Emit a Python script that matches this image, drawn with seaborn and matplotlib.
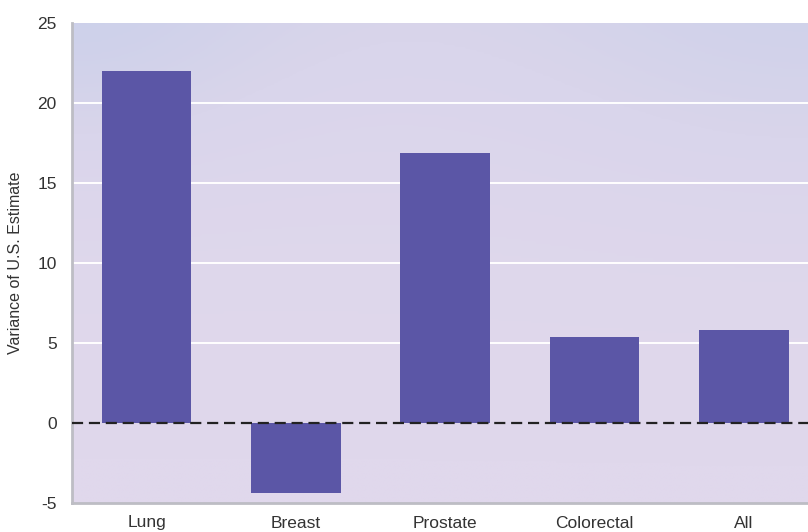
import numpy as np
import pandas as pd
import matplotlib
matplotlib.use('Agg')
import matplotlib.pyplot as plt
import seaborn as sns
from matplotlib.colors import LinearSegmentedColormap

# 数据
cancer_types = ['Lung', 'Breast', 'Prostate', 'Colorectal', 'All']
variance = [22.0, -4.4, 16.9, 5.4, 5.8]
y_ticks = [-5, 0, 5, 10, 15, 20, 25]

sns.set_style('white')
plt.rcParams['font.family'] = ['Liberation Sans Narrow', 'Liberation Sans', 'DejaVu Sans']

df = pd.DataFrame({'type': cancer_types, 'variance': variance})

fig = plt.figure(figsize=(8.08, 5.32), dpi=100)
ax = fig.add_axes([72 / 808, 29 / 532, 736 / 808, 480 / 532])

# 渐变背景：左上偏蓝，中间偏粉紫
xg, yg = np.meshgrid(np.linspace(0, 1, 200), np.linspace(0, 1, 200))
t = np.clip(0.45 * (1 - yg) ** 2 + 0.45 * np.exp(-((xg) ** 2 + (yg) ** 2) / 0.08)
            + 0.35 * np.exp(-((xg - 1) ** 2 + (yg) ** 2) / 0.15), 0, 1)
cmap = LinearSegmentedColormap.from_list('bg', ['#e0d8ec', '#d9d5eb', '#cbd0ea'])
ax.imshow(t, cmap=cmap, extent=(-0.5, 4.43, -5, 25), aspect='auto',
          origin='upper', zorder=0, vmin=0, vmax=1)

sns.barplot(data=df, x='type', y='variance', color='#5b56a6', saturation=1,
            width=0.6, linewidth=0, ax=ax, zorder=3)

for y in [5, 10, 15, 20]:
    ax.axhline(y, color='white', lw=1.4, zorder=1)
ax.axhline(0, color='#222222', lw=1.6, ls=(0, (5, 2.6)), zorder=4)

ax.set_xlim(-0.5, 4.43)
ax.set_ylim(-5, 25)
ax.set_yticks(y_ticks)
ax.set_yticklabels([str(v) for v in y_ticks])
ax.set_xlabel('')
ax.set_ylabel('Variance of U.S. Estimate', fontsize=11.5, color='#333333', labelpad=10)
ax.tick_params(axis='both', length=0, labelsize=12.5, colors='#333333')
ax.tick_params(axis='y', pad=11)
ax.tick_params(axis='x', pad=9)

for side in ['top', 'right']:
    ax.spines[side].set_visible(False)
ax.spines['left'].set_color('#bdbdc4')
ax.spines['left'].set_linewidth(2)
ax.spines['bottom'].set_color('#bdbdc4')
ax.spines['bottom'].set_linewidth(2)

fig.savefig('out.png', dpi=100)
